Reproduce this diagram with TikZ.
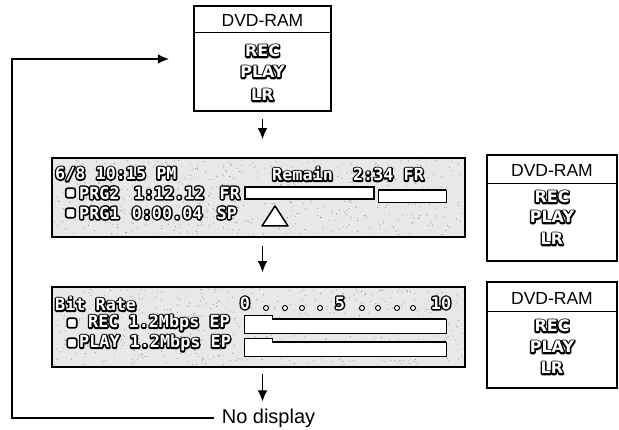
\documentclass[tikz,border=0pt]{standalone}
\usepackage{fontspec}
\setmainfont{Liberation Sans}
\newfontfamily\lcdfont{DejaVu Sans Mono}
\newfontfamily\btnfont{DejaVu Sans}
\usetikzlibrary{arrows.meta}
\newcommand\olt[1]{\makebox[0pt][l]{\color{black}\special{pdf:literal direct 0 G 3 w 1 j 1 Tr}#1\special{pdf:literal direct 0 Tr}}{\color{white}#1}}
\tikzset{
 selbox/.style={draw=black, line width=2.1pt, fill=white, inner sep=0},
 panel/.style={draw=black, line width=1.5pt, fill=black!9, inner sep=0},
 flow/.style={line width=1.1pt, -{Latex[length=11pt,width=9.5pt]}},
 hdr/.style={font=\fontsize{17.5}{20}\selectfont, inner sep=0},
 btn/.style={font=\btnfont\bfseries\fontsize{16}{18}\selectfont, inner sep=0},
 lcd/.style={font=\lcdfont\bfseries\fontsize{16.8}{19}\selectfont, anchor=west, inner sep=0},
 chk/.style={draw=black, fill=white, line width=1.6pt, rounded corners=2pt, minimum size=9.5pt, inner sep=0},
 dot/.style={circle, draw=black, fill=white, line width=0.9pt, minimum size=5pt, inner sep=0},
 sep/.style={line width=0.8pt},
 thinl/.style={line width=0.8pt},
 thickl/.style={line width=2.6pt},
}
\begin{document}
\begin{tikzpicture}[x=1pt,y=-1pt]
\useasboundingbox (0,0) rectangle (619,430);
% selection boxes
\node[selbox, minimum width=137pt, minimum height=105pt] (b1) at (262.5,58.5) {};
\draw[sep] ([yshift=-27pt]b1.north west) -- ([yshift=-27pt]b1.north east);
\node[hdr] (b1t) at (262.5,20) {DVD-RAM};
\node[btn] (b1r) at (262.5,51) {\olt{REC}};
\node[btn] (b1p) at (262.5,72) {\olt{PLAY}};
\node[btn] (b1l) at (262.5,95) {\olt{LR}};

\node[selbox, minimum width=130pt, minimum height=106pt] (b2) at (552,208) {};
\draw[sep] ([yshift=-29pt]b2.north west) -- ([yshift=-29pt]b2.north east);
\node[hdr] (b2t) at (552,170) {DVD-RAM};
\node[btn] (b2r) at (552,197) {\olt{REC}};
\node[btn] (b2p) at (552,217) {\olt{PLAY}};
\node[btn] (b2l) at (552,239) {\olt{LR}};

\node[selbox, minimum width=130pt, minimum height=106pt] (b3) at (552,335) {};
\draw[sep] ([yshift=-30pt]b3.north west) -- ([yshift=-30pt]b3.north east);
\node[hdr] (b3t) at (552,298) {DVD-RAM};
\node[btn] (b3r) at (552,326) {\olt{REC}};
\node[btn] (b3p) at (552,347) {\olt{PLAY}};
\node[btn] (b3l) at (552,368) {\olt{LR}};

% panel 1
\node[panel, minimum width=413pt, minimum height=79pt] (p1) at (258.5,197.5) {};
\pgfmathsetseed{7}
\foreach \i in {1,...,550} {\fill[black!55] ({54+409*rnd},{160+75*rnd}) circle (0.45pt);}
\node[lcd] (l1) at (55,174) {\olt{6/8 10:15 PM}};
\node[chk] (c1) at (70.5,193) {};
\node[lcd] (l2) at (79,193) {\olt{PRG2\hspace{4pt} 1:12.12\hspace{5pt} FR}};
\node[chk] (c2) at (70.5,213) {};
\node[lcd] (l3) at (79,213) {\olt{PRG1\hspace{2pt} 0:00.04\hspace{4pt} SP}};
\node[lcd] (l4) at (272,174) {\olt{Remain~~2:34~FR}};
\draw[thinl, fill=white] (378,190) rectangle (446,202);
\draw[thickl] (378,190) -- (446,190);
\draw[line width=1.4pt, fill=white] (245,187) rectangle (374,199);
\draw[line width=1.5pt, fill=white, line join=round] (275,206) -- (288,226) -- (262,226) -- cycle;

% panel 2
\node[panel, minimum width=413pt, minimum height=80pt] (p2) at (258.5,327) {};
\foreach \i in {1,...,550} {\fill[black!55] ({54+409*rnd},{289+76*rnd}) circle (0.45pt);}
\node[lcd] (m1) at (55,304) {\olt{Bit Rate}};
\node[chk] (c3) at (72,323) {};
\node[lcd] (m2) at (88,323) {\olt{REC 1.2Mbps EP}};
\node[chk] (c4) at (72,343) {};
\node[lcd] (m3) at (79,343) {\olt{PLAY 1.2Mbps EP}};
\node[lcd, anchor=center] (s0) at (245,303) {\olt{0}};
\node[lcd, anchor=center] (s5) at (340,303) {\olt{5}};
\node[lcd, anchor=center] (s10) at (441,303) {\olt{10}};
\foreach \x [count=\k] in {266,285,302,320,362,378,397,413} {\node[dot] (d\k) at (\x,308) {};}
\foreach \yy in {0,23} {
  \draw[thinl, fill=white] (272,319+\yy) -- (272,315+\yy) -- (244,315+\yy) -- (244,333+\yy) -- (446,333+\yy) -- (446,319+\yy);
  \draw[thickl] (272,319+\yy) -- (446,319+\yy);
}

% flow
\node[font=\fontsize{20}{22}\selectfont, inner sep=0] (nd) at (268.5,418) {No display};
\draw[flow] ([yshift=-7pt]b1.south) -- ([yshift=18pt]b1.south |- p1.north);
\draw[flow] ([yshift=-8pt]b1.south |- p1.south) -- ([yshift=14pt]b1.south |- p2.north);
\draw[flow] ([yshift=-6pt]b1.south |- p2.south) -- ([yshift=7pt]b1.south |- nd.north);
\coordinate (lcb) at (12,418);
\coordinate (lct) at (12,59);
\draw[flow] ([xshift=-8pt]nd.west) -- (lcb) -- (lct) -- ([xshift=-24pt]lct -| b1.west);
\end{tikzpicture}
\end{document}
